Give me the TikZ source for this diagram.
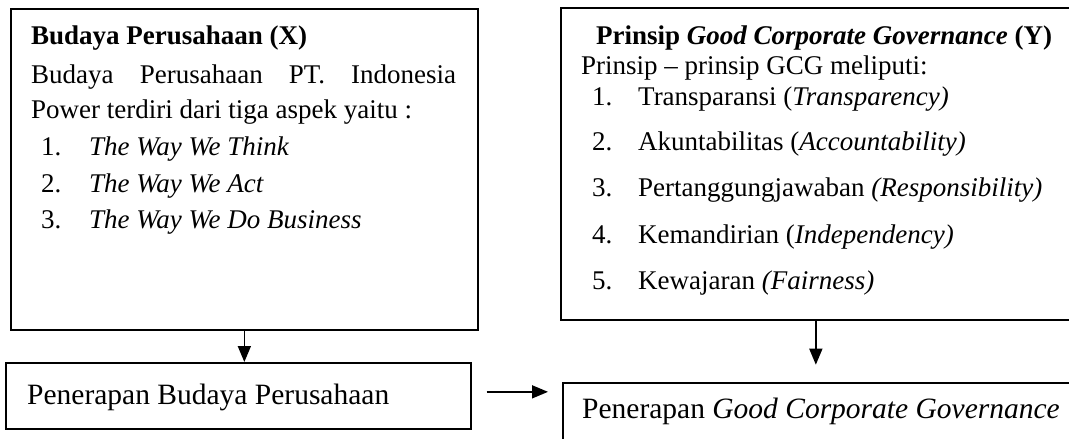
\documentclass[tikz,border=0pt]{standalone}
\usepackage{fontspec}
\setmainfont{Liberation Serif}
\usetikzlibrary{arrows.meta,calc}

\tikzset{
  kotak/.style={draw, line width=1.7pt, inner sep=0pt, anchor=north west},
  teks/.style={anchor=base west, inner sep=0pt, font=\fontsize{27}{32}\selectfont},
  teksbawah/.style={anchor=base west, inner sep=0pt, font=\fontsize{29.5}{34}\selectfont},
  panah/.style={line width=1.6pt, -{Triangle[length=16pt,width=13pt]}},
}

\begin{document}
\begin{tikzpicture}[x=1pt, y=-1pt]
			%%%%% START %%%%%
			\useasboundingbox (0, 0) rectangle (1069, 439);
			
			% kotak atas
			\node[kotak, minimum width=467pt, minimum height=321pt] (bx) at (10, 8) {};
			\node[kotak, minimum width=510pt, minimum height=312pt] (by) at (560, 7) {};
			
			% isi kotak X
			\node[teks] (xjudul) at (31, 45) {\textbf{Budaya Perusahaan (X)}};
			\node[teks] (xbaris1) at (31, 83) {\makebox[425pt][s]{Budaya Perusahaan PT. Indonesia}};
			\node[teks] (xbaris2) at (31, 118) {Power terdiri dari tiga aspek yaitu :};
			\node[teks] (xno1) at (41, 155) {1.};
			\node[teks] (xisi1) at (89, 155) {\textit{The Way We Think}};
			\node[teks] (xno2) at (41, 192) {2.};
			\node[teks] (xisi2) at (89, 192) {\textit{The Way We Act}};
			\node[teks] (xno3) at (41, 228) {3.};
			\node[teks] (xisi3) at (89, 228) {\textit{The Way We Do Business}};
			
			% isi kotak Y
			\node[teks] (yjudul) at (596, 44) {\textbf{Prinsip \textit{Good Corporate Governance} (Y)}};
			\node[teks] (ybaris1) at (581, 74) {Prinsip -- prinsip GCG meliputi:};
			\node[teks] (yno1) at (592, 105) {1.};
			\node[teks] (yisi1) at (638, 105) {Transparansi (\textit{Transparency)}};
			\node[teks] (yno2) at (592, 150) {2.};
			\node[teks] (yisi2) at (638, 150) {Akuntabilitas (\textit{Accountability)}};
			\node[teks] (yno3) at (592, 196) {3.};
			\node[teks] (yisi3) at (638, 196) {Pertanggungjawaban \textit{(Responsibility)}};
			\node[teks] (yno4) at (592, 243) {4.};
			\node[teks] (yisi4) at (638, 243) {Kemandirian (\textit{Independency)}};
			\node[teks] (yno5) at (592, 289) {5.};
			\node[teks] (yisi5) at (638, 289) {Kewajaran \textit{(Fairness)}};
			
			% kotak bawah
			\node[kotak, minimum width=465pt, minimum height=66pt] (pb) at (5, 362) {};
			\node[teksbawah] (pbteks) at (27, 404) {Penerapan Budaya Perusahaan};
			\node[kotak, minimum width=510pt, minimum height=70pt] (pg) at (562, 382) {};
			\node[teksbawah] (pgteks) at (582, 418) {Penerapan \textit{Good Corporate Governance}};
			
			% panah
			\draw[panah] (bx.south) -- (bx.south |- pb.north);
			\coordinate (ujungY) at ($(by.south)+(0, 44)$);
			\draw[panah] (by.south) -- (ujungY);
			\draw[panah, shorten <=15pt, shorten >=14pt] ([yshift=4pt]pb.east) -- ([yshift=4pt]pb.east -| pg.west);
			
			%%%%% END %%%%%
\end{tikzpicture}
\end{document}
